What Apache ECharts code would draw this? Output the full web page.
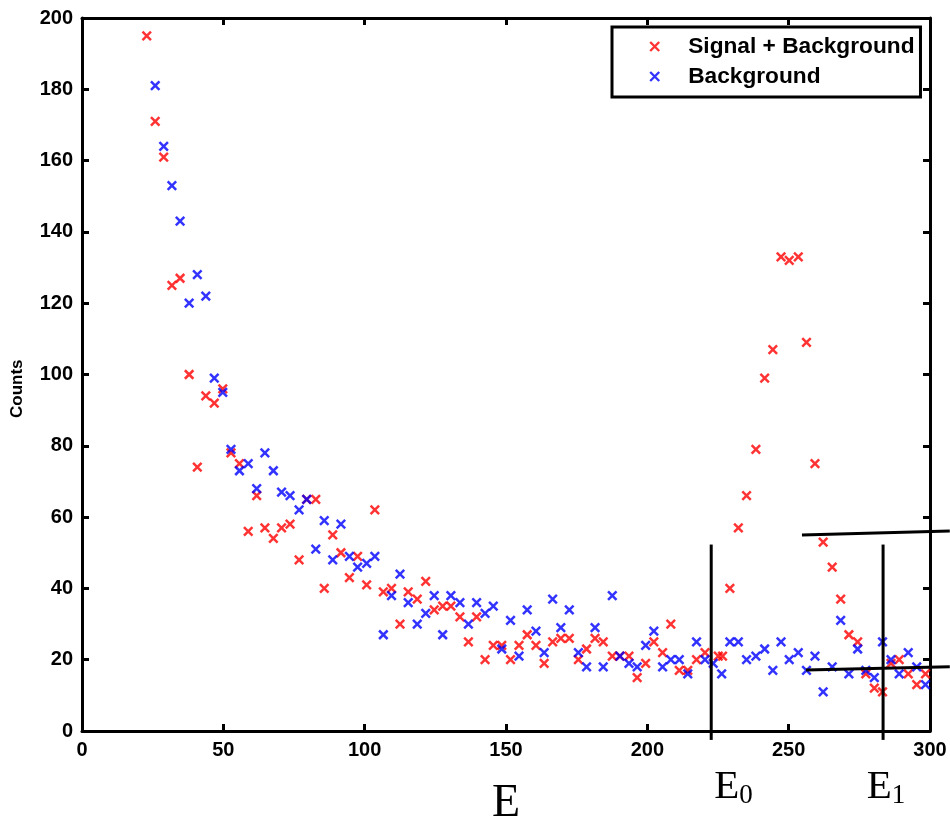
<!DOCTYPE html>
<html><head><meta charset="utf-8">
<script src="https://cdn.jsdelivr.net/npm/echarts@6/dist/echarts.min.js"></script>
<style>html,body{margin:0;padding:0;background:#fff}#c{width:950px;height:818px}</style>
</head><body><div id="c"></div>
<script>
// Signal + Background (red)
const E_SB = [22.9,25.9,28.9,31.8,34.7,37.9,40.8,43.8,46.8,49.8,52.7,55.7,58.8,61.8,64.7,67.7,70.6,73.6,76.8,79.5,82.7,85.7,88.7,91.6,94.6,97.5,100.7,103.6,106.6,109.5,112.5,115.4,118.6,121.6,124.6,127.6,130.5,133.7,136.7,139.6,142.6,145.5,148.5,151.6,154.6,157.5,160.6,163.5,166.5,169.4,172.4,175.6,178.5,181.5,184.4,187.6,190.3,193.5,196.4,199.4,202.3,205.4,208.3,211.3,214.3,217.4,220.4,225.1,226.6,229.2,232.2,235.1,238.4,241.5,244.4,247.3,250.2,253.4,256.3,259.3,262.2,265.4,268.4,271.3,274.4,277.3,280.3,283.2,286.2,289.1,292.3,295.3,298.4];
const SB = [195,171,161,125,127,100,74,94,92,96,78,75,56,66,57,54,57,58,48,65,65,40,55,50,43,49,41,62,39,40,30,39,37,42,34,35,35,32,25,32,20,24,24,20,24,27,24,19,25,26,26,20,23,26,25,21,21,21,15,19,25,22,30,17,17,20,22,21,21,40,57,66,79,99,107,133,132,133,109,75,53,46,37,27,25,16,12,11,19,20,16,13,16];
// Background (blue)
const E_B = [25.9,28.9,31.8,34.7,37.9,40.8,43.8,46.8,49.8,52.7,55.7,58.8,61.8,64.7,67.7,70.6,73.6,76.8,79.5,82.7,85.7,88.7,91.6,94.6,97.5,100.7,103.6,106.6,109.5,112.5,115.4,118.6,121.6,124.6,127.6,130.5,133.7,136.7,139.6,142.6,145.5,148.5,151.6,154.6,157.5,160.6,163.5,166.5,169.4,172.4,175.6,178.5,181.5,184.4,187.6,190.3,193.5,196.4,199.4,202.3,205.4,208.3,211.3,214.3,217.4,220.4,223.3,226.3,229.2,232.2,235.1,238.4,241.5,244.4,247.3,250.2,253.4,256.3,259.3,262.2,265.4,268.4,271.3,274.4,277.3,280.3,283.2,286.2,289.1,292.3,295.3,298.4];
const B = [181,164,153,143,120,128,122,99,95,79,73,75,68,78,73,67,66,62,65,51,59,48,58,49,46,47,49,27,38,44,36,30,33,38,27,38,36,30,36,33,35,23,31,21,34,28,22,37,29,34,22,18,29,18,38,21,19,18,24,28,18,20,20,16,25,20,19,16,25,25,20,21,23,17,25,20,22,17,21,11,18,31,16,23,17,15,25,20,16,22,18,13];
// axis ticks
const X_TICKS = [0,50,100,150,200,250,300];
const Y_TICKS = [0,20,40,60,80,100,120,140,160,180,200];
// annotations (data coordinates)
const GUIDE_E = [222.6, 283.4];
const GUIDE_Y = [-2.5, 52.3];
const GUIDE_LABELS = ['0','1'];
const GUIDE_LABEL_X = [230.5, 284.4];
const UPPER_LINE = [[254.7,55.0],[307,56.1]];
const LOWER_LINE = [[256.1,17.1],[307,18.0]];

const XSYM = 'path://M0,0L10,10M10,0L0,10';
const sans = '"Liberation Sans", Arial, Helvetica, sans-serif';
const serif = '"Liberation Serif", "Times New Roman", serif';

const chart = echarts.init(document.getElementById('c'), null, {renderer:'canvas'});
const zip = (xs, ys) => xs.map((x,i)=>[x, ys[i]]);
const axisCommon = {
  type:'value',
  axisLine:{show:true, onZero:false, lineStyle:{color:'#000', width:3}},
  axisTick:{show:true, inside:true, length:7, lineStyle:{color:'#000', width:3}},
  splitLine:{show:false}
};
chart.setOption({
  animation:false,
  backgroundColor:'#fff',
  grid:{left:82, right:20, top:18, bottom:87, containLabel:false, outerBoundsMode:'none'},
  xAxis:[
    Object.assign({}, axisCommon, {min:0, max:300, interval:50, position:'bottom',
      axisLabel:{color:'#000', fontFamily:sans, fontWeight:'bold', fontSize:20, margin:9,
        formatter:v=>X_TICKS.includes(v)?String(v):''}}),
    Object.assign({}, axisCommon, {min:0, max:300, interval:50, position:'top', axisLabel:{show:false}})
  ],
  yAxis:[
    Object.assign({}, axisCommon, {min:0, max:200, interval:20, position:'left',
      axisLabel:{color:'#000', fontFamily:sans, fontWeight:'bold', fontSize:20, margin:9,
        formatter:v=>Y_TICKS.includes(v)?String(v):''}}),
    Object.assign({}, axisCommon, {min:0, max:200, interval:20, position:'right', axisLabel:{show:false}})
  ],
  legend:{
    orient:'vertical', left:612, top:27,
    backgroundColor:'#fff', borderColor:'#000', borderWidth:3, borderRadius:0,
    padding:[8, 6, 9, 37], itemGap:7, itemWidth:9, itemHeight:9,
    textStyle:{fontFamily:sans, fontWeight:'bold', fontSize:22.7, color:'#000', padding:[0,0,0,24], lineHeight:22},
    data:[
      {name:'Signal + Background', icon:XSYM, itemStyle:{color:'transparent', borderColor:'#ff0000', borderWidth:2.4}},
      {name:'Background', icon:XSYM, itemStyle:{color:'transparent', borderColor:'#0000ff', borderWidth:2.4}}
    ]
  },
  series:[
    {name:'Signal + Background', type:'scatter', data:zip(E_SB, SB), symbol:XSYM, symbolSize:8.5,
      itemStyle:{color:'transparent', borderColor:'#ff0000', borderWidth:2.5}, z:3},
    {name:'Background', type:'scatter', data:zip(E_B, B), symbol:XSYM, symbolSize:8.5,
      itemStyle:{color:'transparent', borderColor:'#0000ff', borderWidth:2.5}, z:4}
  ]
});

function px(p){ return chart.convertToPixel({xAxisIndex:0, yAxisIndex:0}, p); }
const g = [];
// axis titles
const ax0 = px([150, 0]);
g.push({type:'text', x:ax0[0], y:ax0[1]+50, z:10, style:{text:'E', fontFamily:serif, fontSize:46, fill:'#000', align:'center', verticalAlign:'top'}});
const ay0 = px([0, 96]);
g.push({type:'text', x:17, y:ay0[1], rotation:Math.PI/2, z:10, style:{text:'Counts', fontFamily:sans, fontWeight:'bold', fontSize:17, fill:'#000', align:'center', verticalAlign:'middle'}});
GUIDE_E.forEach((e,i)=>{
  const a = px([e, GUIDE_Y[1]]), b = px([e, GUIDE_Y[0]]);
  g.push({type:'line', shape:{x1:a[0], y1:a[1], x2:b[0], y2:b[1]}, style:{stroke:'#000', lineWidth:3}, z:10});
  const t = px([GUIDE_LABEL_X[i], 0]);
  g.push({type:'text', x:t[0], y:t[1]+35, z:10, style:{
    text:'{e|E}{s|'+GUIDE_LABELS[i]+'}', align:'center', verticalAlign:'top',
    rich:{e:{fontFamily:serif, fontSize:41, fill:'#000'}, s:{fontFamily:serif, fontSize:27, fill:'#000', verticalAlign:'bottom', padding:[16,0,0,0]}}
  }});
});
[UPPER_LINE, LOWER_LINE].forEach(l=>{
  const a = px(l[0]), b = px(l[1]);
  g.push({type:'line', shape:{x1:a[0], y1:a[1], x2:b[0], y2:b[1]}, style:{stroke:'#000', lineWidth:3}, z:10});
});
chart.setOption({graphic:g});
</script>
</body></html>
